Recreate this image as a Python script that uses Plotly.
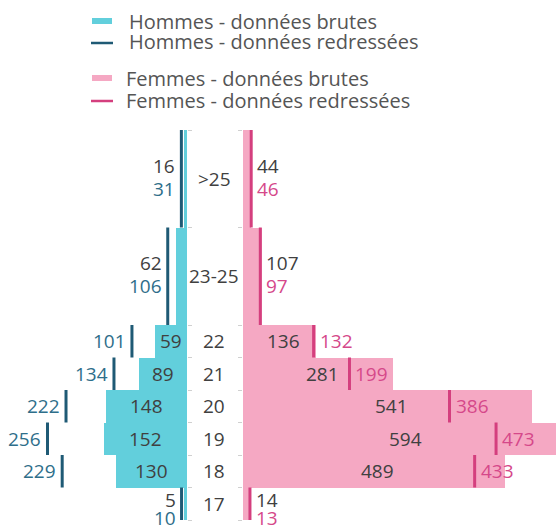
import plotly.graph_objects as go

# ---------------- data ----------------
categories = ["17", "18", "19", "20", "21", "22", "23-25", ">25"]
age_low = [17, 18, 19, 20, 21, 22, 23, 26]     # first age of the class
span_years = [1, 1, 1, 1, 1, 1, 3, 3]           # number of years in the class
hommes_brutes = [5, 130, 152, 148, 89, 59, 62, 16]
hommes_redressees = [10, 229, 256, 222, 134, 101, 106, 31]
femmes_brutes = [14, 489, 594, 541, 281, 136, 107, 44]
femmes_redressees = [13, 433, 473, 386, 199, 132, 97, 46]

# ---------------- styles ----------------
C_H_BAR = "#62CFDC"
C_H_LINE = "#1F5A75"
C_H_TXT = "#2E6E8A"
C_F_BAR = "#F5A8C3"
C_F_LINE = "#D43F7E"
C_F_TXT = "#D5488A"
C_TXT = "#404040"
FONT = "Open Sans"
FS = 19

W, H = 556, 529
male_base_px = 187
female_base_px = 243
male_px_per_unit = 0.545
female_px_per_unit = 0.535
top_px, bot_px = 130, 520


def px_x(x):  # window x -> paper x
    return x / W


def px_y(y):  # window y -> paper y
    return (bot_px - y) / (bot_px - top_px)


y_lo = [a - 0.5 for a in age_low]
y_hi = [a - 0.5 + s for a, s in zip(age_low, span_years)]
y_mid = [(a + b) / 2 for a, b in zip(y_lo, y_hi)]

h_bar = [v / s for v, s in zip(hommes_brutes, span_years)]
h_red = [v / s for v, s in zip(hommes_redressees, span_years)]
f_bar = [v / s for v, s in zip(femmes_brutes, span_years)]
f_red = [v / s for v, s in zip(femmes_redressees, span_years)]

fig = go.Figure()

fig.add_trace(go.Bar(
    x=h_bar, y=y_mid, width=span_years, orientation="h",
    marker=dict(color=C_H_BAR, line=dict(width=0)),
    xaxis="x", yaxis="y", showlegend=False, hoverinfo="skip"))
fig.add_trace(go.Bar(
    x=f_bar, y=y_mid, width=span_years, orientation="h",
    marker=dict(color=C_F_BAR, line=dict(width=0)),
    xaxis="x2", yaxis="y2", showlegend=False, hoverinfo="skip"))


def seg(xs):
    X, Y = [], []
    for xv, a, b in zip(xs, y_lo, y_hi):
        X += [xv, xv, None]
        Y += [a, b, None]
    return X, Y


X, Y = seg(h_red)
fig.add_trace(go.Scatter(x=X, y=Y, mode="lines", line=dict(color=C_H_LINE, width=3),
                         xaxis="x", yaxis="y", showlegend=False, hoverinfo="skip"))
X, Y = seg(f_red)
fig.add_trace(go.Scatter(x=X, y=Y, mode="lines", line=dict(color=C_F_LINE, width=3),
                         xaxis="x2", yaxis="y2", showlegend=False, hoverinfo="skip"))

ann = []
for i, cat in enumerate(categories):
    inside = span_years[i] == 1 and cat != "17"
    if span_years[i] == 1 and cat == "17":
        raw_dy, red_dy = 4, -14
    else:
        raw_dy, red_dy = 13, -10
    # category label
    ann.append(dict(x=px_x(214), xref="paper", y=y_mid[i], yref="y", text=cat,
                    showarrow=False, xanchor="center", yanchor="middle",
                    font=dict(family=FONT, size=FS, color=C_TXT)))
    # redressed labels
    ann.append(dict(x=h_red[i], xref="x", y=y_mid[i], yref="y", text=str(hommes_redressees[i]),
                    showarrow=False, xanchor="right", yanchor="middle", xshift=-4,
                    yshift=0 if inside else red_dy,
                    font=dict(family=FONT, size=FS, color=C_H_TXT)))
    ann.append(dict(x=f_red[i], xref="x2", y=y_mid[i], yref="y2", text=str(femmes_redressees[i]),
                    showarrow=False, xanchor="left", yanchor="middle", xshift=4,
                    yshift=0 if inside else red_dy,
                    font=dict(family=FONT, size=FS, color=C_F_TXT)))
    if inside:
        ann.append(dict(x=h_bar[i] / 2, xref="x", y=y_mid[i], yref="y", text=str(hommes_brutes[i]),
                        showarrow=False, xanchor="center", yanchor="middle",
                        font=dict(family=FONT, size=FS, color=C_TXT)))
        ann.append(dict(x=f_bar[i] / 2, xref="x2", y=y_mid[i], yref="y2", text=str(femmes_brutes[i]),
                        showarrow=False, xanchor="center", yanchor="middle", xshift=4,
                        font=dict(family=FONT, size=FS, color=C_TXT)))
    else:
        ann.append(dict(x=h_red[i], xref="x", y=y_mid[i], yref="y", text=str(hommes_brutes[i]),
                        showarrow=False, xanchor="right", yanchor="middle", xshift=-4,
                        yshift=raw_dy, font=dict(family=FONT, size=FS, color=C_TXT)))
        ann.append(dict(x=f_red[i], xref="x2", y=y_mid[i], yref="y2", text=str(femmes_brutes[i]),
                        showarrow=False, xanchor="left", yanchor="middle", xshift=4,
                        yshift=raw_dy, font=dict(family=FONT, size=FS, color=C_TXT)))

# legend (manual), window pixel positions
legend_items = [
    ("Hommes - données brutes", "rect", C_H_BAR, 21, 127),
    ("Hommes - données redressées", "line", C_H_LINE, 42, 127),
    ("Femmes - données brutes", "rect", C_F_BAR, 78, 124),
    ("Femmes - données redressées", "line", C_F_LINE, 100, 124),
]
shapes = []
for text, kind, col, yc, xt in legend_items:
    if kind == "rect":
        shapes.append(dict(type="rect", xref="paper", yref="paper",
                           x0=px_x(92), x1=px_x(112), y0=px_y(yc + 3), y1=px_y(yc - 3),
                           fillcolor=col, line=dict(width=0)))
    else:
        shapes.append(dict(type="line", xref="paper", yref="paper",
                           x0=px_x(91), x1=px_x(113), y0=px_y(yc + 1), y1=px_y(yc + 1),
                           line=dict(color=col, width=2.5)))
    ann.append(dict(x=px_x(xt), xref="paper", y=px_y(yc), yref="paper", text=text,
                    showarrow=False, xanchor="left", yanchor="middle",
                    font=dict(family=FONT, size=20, color="#555555")))

boundaries = sorted(set(y_lo + y_hi))
ymin, ymax = min(y_lo), max(y_hi)

fig.update_layout(
    width=W, height=H,
    margin=dict(l=0, r=0, t=top_px, b=H - bot_px, autoexpand=False),
    paper_bgcolor="white", plot_bgcolor="white",
    bargap=0, barmode="overlay",
    showlegend=False,
    xaxis=dict(domain=[0, male_base_px / W], range=[male_base_px / male_px_per_unit, 0],
               visible=False, fixedrange=True),
    xaxis2=dict(domain=[female_base_px / W, 1],
                range=[0, (W - female_base_px) / female_px_per_unit],
                visible=False, fixedrange=True),
    yaxis=dict(range=[ymin, ymax], anchor="x", side="right", showgrid=False, zeroline=False,
               showline=False, ticks="outside", ticklen=4, tickcolor="#d0d0d0",
               tickvals=boundaries, showticklabels=False, fixedrange=True),
    yaxis2=dict(range=[ymin, ymax], anchor="x2", side="left", overlaying="y", showgrid=False,
                zeroline=False, showline=False, ticks="outside", ticklen=4, tickcolor="#d0d0d0",
                tickvals=boundaries, showticklabels=False, fixedrange=True),
    annotations=ann,
    shapes=shapes,
    font=dict(family=FONT),
)

fig.write_html(
    "out.html",
    config={"displayModeBar": False},
    post_script="document.body.style.margin='0';document.body.style.overflow='hidden';",
)
